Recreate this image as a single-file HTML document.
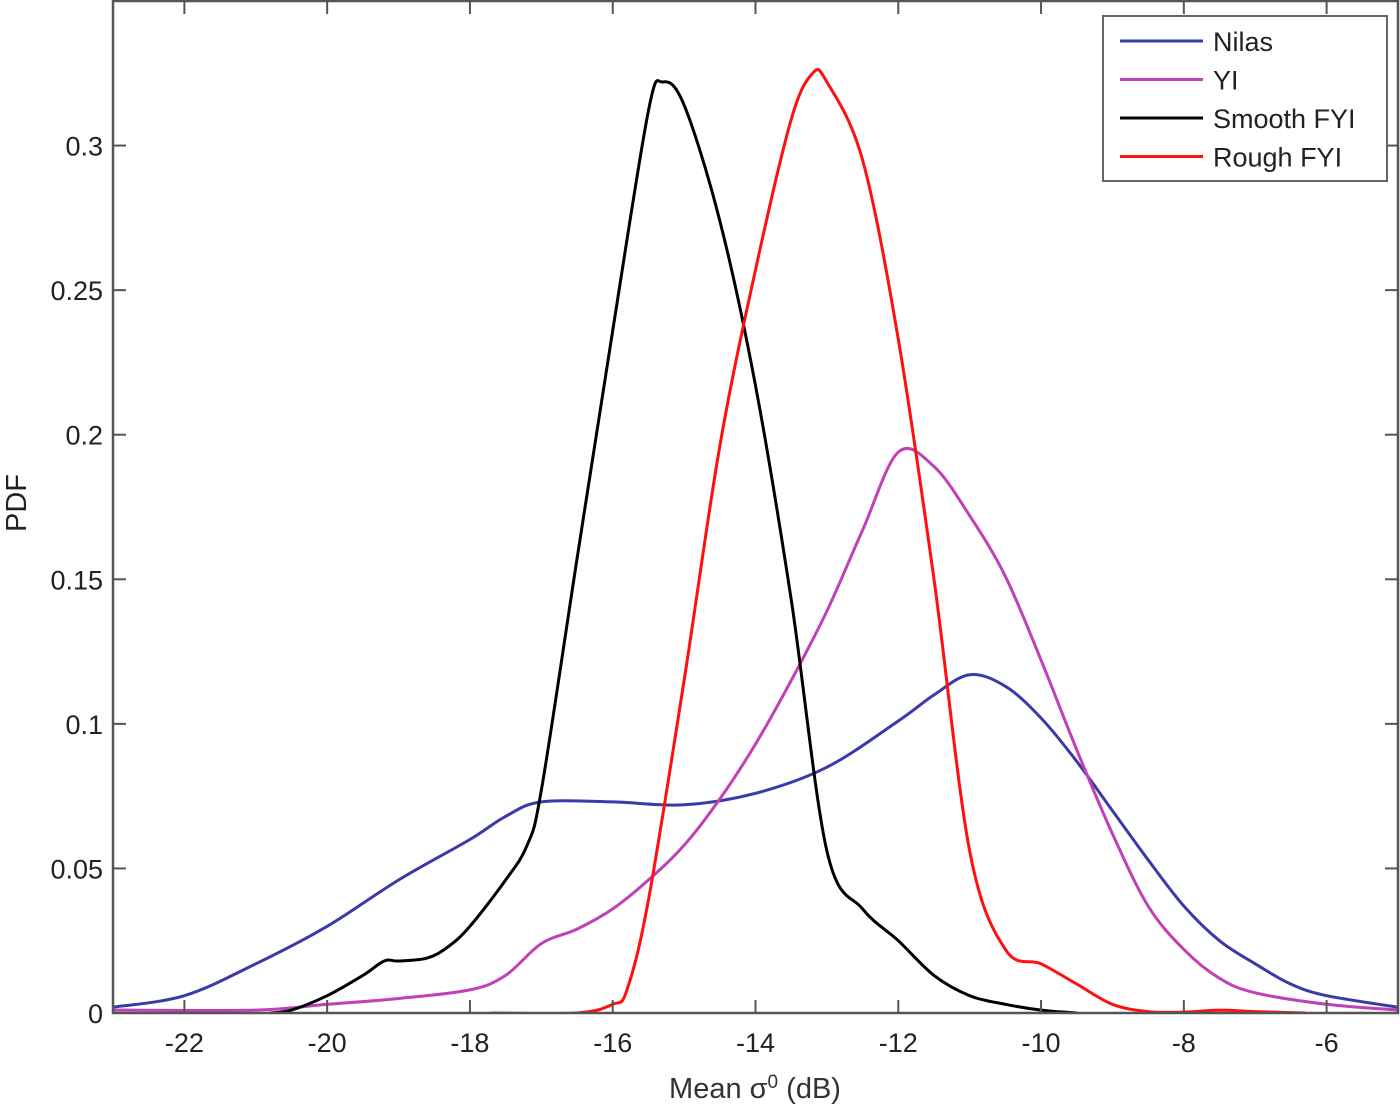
<!DOCTYPE html>
<html><head><meta charset="utf-8"><style>
html,body{margin:0;padding:0;background:#fff;}
svg{display:block;font-family:"Liberation Sans",Arial,sans-serif;}
</style></head><body>
<svg id="chart" width="1400" height="1105" viewBox="0 0 1400 1105" xmlns="http://www.w3.org/2000/svg">
<g id="plot"></g>
</svg>
<script>
const xTicks=[-22,-20,-18,-16,-14,-12,-10,-8,-6];
const yTicks=[0,0.05,0.1,0.15,0.2,0.25,0.3];
const yTickLabels=["0","0.05","0.1","0.15","0.2","0.25","0.3"];
const seriesNames=["Nilas","YI","Smooth FYI","Rough FYI"];
const seriesColors=["#3a3aa8","#c040b8","#000000","#ff1010"];
const nilasX=[-23,-22,-21,-20,-19,-18,-17.5,-17,-16,-15,-14,-13,-12,-11.5,-11,-10.5,-10,-9.5,-9,-8.5,-8,-7.5,-7,-6.5,-6,-5];
const nilasY=[0.002,0.006,0.017,0.03,0.046,0.06,0.068,0.073,0.073,0.072,0.076,0.085,0.101,0.11,0.117,0.113,0.102,0.087,0.07,0.053,0.037,0.025,0.017,0.01,0.006,0.002];
const yiX=[-23,-21,-20,-19,-18,-17.5,-17,-16.5,-16,-15.5,-15,-14.5,-14,-13.5,-13,-12.5,-12,-11.5,-11,-10.5,-10,-9.5,-9,-8.5,-8,-7.5,-7,-6,-5];
const yiY=[0.001,0.001,0.003,0.005,0.008,0.013,0.024,0.029,0.036,0.046,0.058,0.074,0.093,0.115,0.139,0.167,0.194,0.189,0.172,0.151,0.122,0.091,0.062,0.037,0.022,0.012,0.007,0.003,0.001];
const smoothX=[-20.8,-20.5,-20,-19.5,-19.2,-19,-18.6,-18.3,-18,-17.5,-17.2,-17,-16.5,-16,-15.5,-15.3,-15,-14.5,-14,-13.5,-13,-12.5,-12,-11.5,-11,-10.5,-10,-9.5];
const smoothY=[0,0.001,0.006,0.013,0.018,0.018,0.019,0.023,0.03,0.046,0.058,0.077,0.157,0.236,0.312,0.322,0.314,0.274,0.217,0.143,0.056,0.036,0.025,0.013,0.006,0.003,0.001,0];
const roughX=[-17.7,-16.5,-16,-15.8,-15.5,-15,-14.5,-14,-13.5,-13.2,-13,-12.5,-12,-11.5,-11,-10.5,-10,-9.5,-9,-8.5,-8,-7.5,-7,-6.3];
const roughY=[0,0,0.003,0.008,0.039,0.115,0.196,0.257,0.309,0.325,0.322,0.295,0.233,0.15,0.056,0.022,0.017,0.01,0.003,0.0005,0.0003,0.001,0.0005,0];

const L=113,R=1398,T=1,B=1013,xmin=-23,xmax=-5,ymin=0,ymax=0.35;
function sx(v){return L+(v-xmin)/(xmax-xmin)*(R-L);}
function sy(v){return B-(v-ymin)/(ymax-ymin)*(B-T);}
const NS="http://www.w3.org/2000/svg";
const svg=document.getElementById('chart');
function mk(tag,attrs,parent){const e=document.createElementNS(NS,tag);for(const k in attrs)e.setAttribute(k,attrs[k]);(parent||svg).appendChild(e);return e;}
function pathFor(xs,ys){
  const p=xs.map((x,i)=>[sx(x),sy(ys[i])]);
  let d="M"+p[0][0].toFixed(1)+","+p[0][1].toFixed(1);
  for(let i=0;i<p.length-1;i++){
    const p0=p[i-1]||p[i],p1=p[i],p2=p[i+1],p3=p[i+2]||p2;
    const c1=[p1[0]+(p2[0]-p0[0])/6,p1[1]+(p2[1]-p0[1])/6];
    const c2=[p2[0]-(p3[0]-p1[0])/6,p2[1]-(p3[1]-p1[1])/6];
    d+=" C"+c1[0].toFixed(1)+","+c1[1].toFixed(1)+" "+c2[0].toFixed(1)+","+c2[1].toFixed(1)+" "+p2[0].toFixed(1)+","+p2[1].toFixed(1);
  }
  return d;
}
// clip
const defs=mk('defs',{});
const cp=mk('clipPath',{id:'clip'},defs);
mk('rect',{x:L,y:T,width:R-L,height:B-T},cp);
// series
const allX=[nilasX,yiX,smoothX,roughX],allY=[nilasY,yiY,smoothY,roughY];
const sg=mk('g',{'clip-path':'url(#clip)'});
const snames=['nilas-line','yi-line','smooth-fyi-line','rough-fyi-line'];
for(let i=0;i<4;i++){
  const pth=mk('path',{d:pathFor(allX[i],allY[i]),fill:'none',stroke:seriesColors[i],'stroke-width':3,'stroke-linejoin':'round'},sg);
  
  
}
// frame
const fr=mk('rect',{x:L,y:T,width:R-L,height:B-T,fill:'none',stroke:'#555','stroke-width':2.5});


// x ticks
xTicks.forEach(v=>{
  const x=sx(v);
  mk('line',{x1:x,y1:B,x2:x,y2:B-13,stroke:'#555','stroke-width':2});
  mk('line',{x1:x,y1:T,x2:x,y2:T+13,stroke:'#555','stroke-width':2});
  const t=mk('text',{x:x,y:1052,'font-size':27,'text-anchor':'middle',fill:'#222'});
  t.textContent=String(v).replace('-','-');
  
  
});
yTicks.forEach((v,i)=>{
  const y=sy(v);
  mk('line',{x1:L,y1:y,x2:L+13,y2:y,stroke:'#555','stroke-width':2});
  mk('line',{x1:R,y1:y,x2:R-13,y2:y,stroke:'#555','stroke-width':2});
  const t=mk('text',{x:103,y:y+10,'font-size':27,'text-anchor':'end',fill:'#222'});
  t.textContent=yTickLabels[i];
  
  
});
// axis titles
const xt=mk('text',{x:755,y:1098,'font-size':29,'text-anchor':'middle',fill:'#333'});
xt.innerHTML='Mean σ<tspan dy="-10" font-size="19">0</tspan><tspan dy="10"> (dB)</tspan>';


const yt=mk('text',{x:26,y:503,'font-size':29,'text-anchor':'middle',fill:'#222',transform:'rotate(-90 26 503)'});
yt.textContent='PDF';


// legend
const lg=mk('g',{});


mk('rect',{x:1103,y:16,width:284,height:165,fill:'#fff',stroke:'#666','stroke-width':2},lg);
for(let i=0;i<4;i++){
  const y=41+i*38.5;
  const e=mk('g',{},lg);
  
  
  mk('line',{x1:1120,y1:y,x2:1203,y2:y,stroke:seriesColors[i],'stroke-width':3},e);
  const t=mk('text',{x:1213,y:y+10,'font-size':27,fill:'#222'},e);
  t.textContent=seriesNames[i];
}
</script>
</body></html>
